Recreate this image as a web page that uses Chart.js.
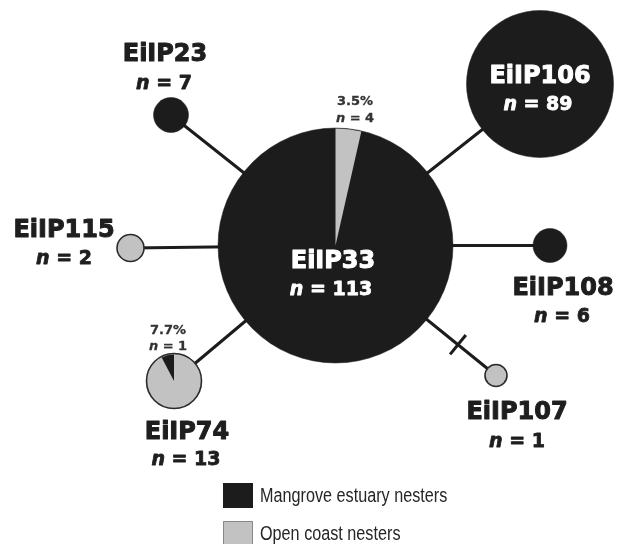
<!DOCTYPE html>
<html>
<head>
<meta charset="utf-8">
<script src="https://cdn.jsdelivr.net/npm/chart.js@4.4.1/dist/chart.umd.min.js"></script>
<style>
  html, body { margin: 0; padding: 0; background: #ffffff; }
  #wrap { position: relative; width: 627px; height: 544px; }
</style>
</head>
<body>
<div id="wrap"><canvas id="c"></canvas></div>
<script>
// ---- data ----
const haplotypes      = ['EiIP33', 'EiIP106', 'EiIP23', 'EiIP115', 'EiIP108', 'EiIP74', 'EiIP107'];
const totalCounts     = [113, 89, 7, 2, 6, 13, 1];
const mangroveCounts  = [109, 89, 7, 0, 6, 1, 0];
const openCoastCounts = [4, 0, 0, 2, 0, 12, 1];
const edges           = [[0, 1], [0, 2], [0, 3], [0, 4], [0, 5], [0, 6]];
const extraMutationEdges = [[0, 6]];
const legendLabels    = ['Mangrove estuary nesters', 'Open coast nesters'];

// ---- layout (network drawing positions, in picture units) ----
const nodeX = [335.5, 540, 171, 130.5, 550, 174, 496];
const nodeY = [245.5, 84, 115, 248, 245.5, 381, 375.5];
const nodeR = [117.5, 73.5, 17.5, 13.5, 17, 27.5, 11];
const nameX = [333, 540, 165, 64, 563, 187, 517];
const nameY = [259, 74, 52, 228, 286, 430, 410];
const nY    = [288, 103, 82, 257, 315, 458, 440];
const nX    = [331, 538, 164, 64, 562, 186, 517];
const pctPos = { 0: [355, 100, 117], 5: [168, 329, 345] };
const tickFraction = 0.763;
const tickHalf = 12.5;

const BLACK = '#1c1c1c';
const GREY = '#c2c2c2';
const OUTLINE = '#2a2a2a';
const TOP = -Math.PI / 2;

function majorityColor(i) {
  return mangroveCounts[i] >= openCoastCounts[i] ? BLACK : GREY;
}

const edgeDatasets = edges.map(([a, b]) => ({
  type: 'line',
  data: [{ x: nodeX[a], y: nodeY[a] }, { x: nodeX[b], y: nodeY[b] }],
  borderColor: BLACK,
  borderWidth: 3,
  pointRadius: 0,
  fill: false,
  clip: false,
  order: 3
}));

const tickDatasets = extraMutationEdges.map(([a, b]) => {
  const dx = nodeX[b] - nodeX[a], dy = nodeY[b] - nodeY[a];
  const len = Math.hypot(dx, dy);
  const ux = dx / len, uy = dy / len;
  const mx = nodeX[a] + dx * tickFraction, my = nodeY[a] + dy * tickFraction;
  return {
    type: 'line',
    data: [{ x: mx + uy * tickHalf, y: my - ux * tickHalf }, { x: mx - uy * tickHalf, y: my + ux * tickHalf }],
    borderColor: BLACK,
    borderWidth: 3,
    pointRadius: 0,
    fill: false,
    clip: false,
    order: 3
  };
});

const nodeDataset = {
  type: 'bubble',
  data: haplotypes.map((h, i) => ({ x: nodeX[i], y: nodeY[i], r: nodeR[i] })),
  backgroundColor: haplotypes.map((h, i) => majorityColor(i)),
  borderColor: haplotypes.map((h, i) => majorityColor(i) === GREY ? OUTLINE : BLACK),
  borderWidth: haplotypes.map((h, i) => majorityColor(i) === GREY ? 1.6 : 0.5),
  hoverRadius: 0,
  clip: false,
  order: 1
};

const pieAndLabels = {
  id: 'pieAndLabels',
  afterDatasetsDraw(chart) {
    const ctx = chart.ctx;
    const meta = chart.getDatasetMeta(chart.data.datasets.length - 1);
    // minority wedges
    meta.data.forEach((el, i) => {
      const m = mangroveCounts[i], o = openCoastCounts[i];
      if (m === 0 || o === 0) return;
      const r = el.options.radius;
      const fo = o / totalCounts[i];
      ctx.save();
      ctx.beginPath();
      ctx.moveTo(el.x, el.y);
      if (m >= o) {
        ctx.arc(el.x, el.y, r - 0.5, TOP, TOP + 2 * Math.PI * fo, false);
        ctx.fillStyle = GREY;
      } else {
        ctx.arc(el.x, el.y, r - 1, TOP + 2 * Math.PI * fo, TOP + 2 * Math.PI, false);
        ctx.fillStyle = BLACK;
      }
      ctx.closePath();
      ctx.fill();
      ctx.restore();
    });

    const xs = chart.scales.x, ys = chart.scales.y;
    function heavy(text, x, y, color, w) {
      ctx.fillStyle = color;
      ctx.strokeStyle = color;
      ctx.lineWidth = w;
      ctx.lineJoin = 'round';
      ctx.strokeText(text, x, y);
      ctx.fillText(text, x, y);
    }
    function nLine(cx, cy, size, text, color) {
      const fItal = 'italic bold ' + size + 'px "DejaVu Sans"';
      const fBold = 'bold ' + size + 'px "DejaVu Sans"';
      ctx.font = fItal; const w1 = ctx.measureText('n').width;
      ctx.font = fBold; const w2 = ctx.measureText(text).width;
      const x0 = xs.getPixelForValue(cx) - (w1 + w2) / 2;
      const y = ys.getPixelForValue(cy) + size * 0.365;
      ctx.textAlign = 'left';
      ctx.textBaseline = 'alphabetic';
      ctx.font = fItal; heavy('n', x0, y, color, size > 15 ? 0.8 : 0.3);
      ctx.font = fBold; heavy(text, x0 + w1, y, color, size > 15 ? 0.8 : 0.3);
    }
    function plain(cx, cy, size, text, color) {
      ctx.font = 'bold ' + size + 'px "DejaVu Sans"';
      ctx.textAlign = 'center';
      ctx.textBaseline = 'alphabetic';
      heavy(text, xs.getPixelForValue(cx), ys.getPixelForValue(cy) + size * 0.365, color, size > 15 ? 1 : 0.3);
    }
    ctx.save();
    haplotypes.forEach((h, i) => {
      const inside = nodeR[i] > 50;
      const col = inside ? '#ffffff' : '#1e1e1e';
      plain(nameX[i], nameY[i], 24, h, col);
      nLine(nX[i], nY[i], 19, ' = ' + totalCounts[i], col);
      if (pctPos[i]) {
        const minority = Math.min(mangroveCounts[i], openCoastCounts[i]);
        const pct = (minority / totalCounts[i] * 100).toFixed(1) + '%';
        const [px, py1, py2] = pctPos[i];
        plain(px, py1, 13, pct, '#333333');
        nLine(px, py2, 13, ' = ' + minority, '#333333');
      }
    });
    // legend
    const legColors = [BLACK, GREY];
    const legY = [483, 521];
    legendLabels.forEach((lab, k) => {
      const x = xs.getPixelForValue(223), y = ys.getPixelForValue(legY[k]);
      ctx.fillStyle = legColors[k];
      ctx.fillRect(x, y, 30, 25);
      ctx.strokeStyle = k === 0 ? BLACK : '#888888';
      ctx.lineWidth = 1;
      ctx.strokeRect(x + 0.5, y + 0.5, 29, 24);
      ctx.save();
      ctx.translate(x + 37, y + 13);
      ctx.scale(0.81, 1);
      ctx.fillStyle = '#262626';
      ctx.font = '20px "Liberation Sans", sans-serif';
      ctx.textAlign = 'left';
      ctx.textBaseline = 'middle';
      ctx.fillText(lab, 0, 0);
      ctx.restore();
    });
    ctx.restore();
  }
};

new Chart(document.getElementById('c'), {
  type: 'bubble',
  data: { datasets: [...edgeDatasets, ...tickDatasets, nodeDataset] },
  options: {
    responsive: true,
    maintainAspectRatio: false,
    animation: false,
    events: [],
    layout: { padding: 0, autoPadding: false },
    plugins: { legend: { display: false }, tooltip: { enabled: false } },
    scales: {
      x: { type: 'linear', min: 0, max: 627, display: false },
      y: { type: 'linear', min: 0, max: 544, reverse: true, display: false }
    }
  },
  plugins: [pieAndLabels]
});
</script>
</body>
</html>
